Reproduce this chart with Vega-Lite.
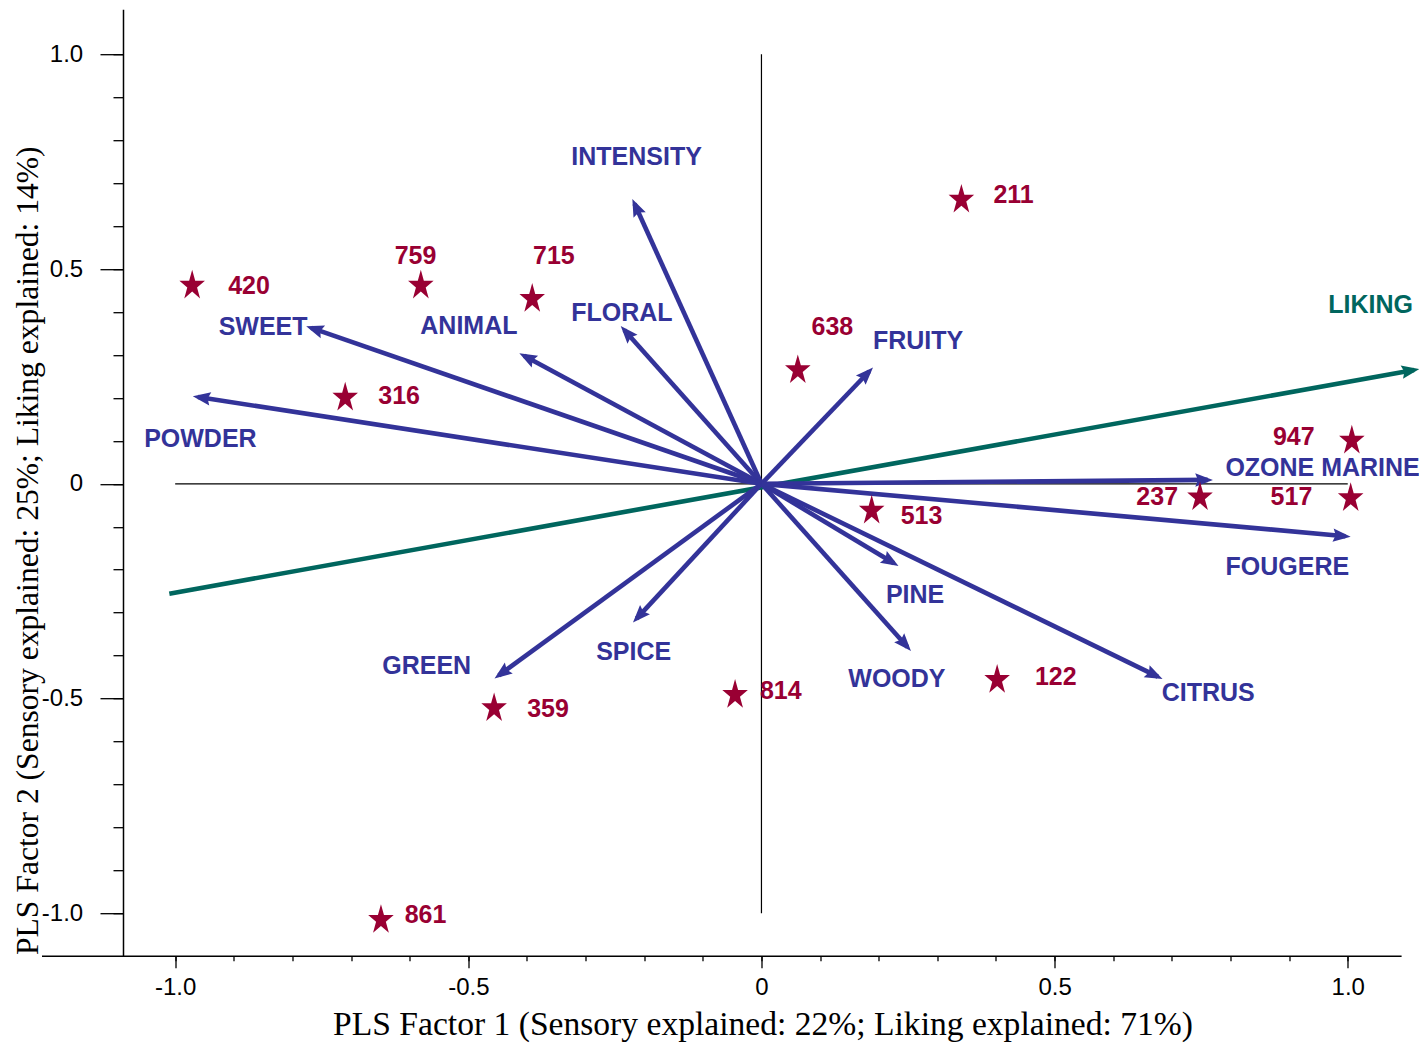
{
  "$schema": "https://vega.github.io/schema/vega-lite/v6.json",
  "width": 1359.6,
  "height": 946.6,
  "autosize": {"type": "none"},
  "padding": {"left": 41.5, "top": 9.2, "right": 18, "bottom": 88},
  "background": "white",
  "config": {"view": {"stroke": null}},
  "datasets": {
    "ref": [
      {"x": -1, "x2": 1, "y": 0, "y2": 0},
      {"x": 0, "x2": 0, "y": -1, "y2": 1}
    ],
    "loadings": [
      {"name": "LIKING", "kind": "liking", "x0": -1.010, "y0": -0.256, "x": 1.113, "y": 0.265, "lx": 1.039, "ly": 0.416},
      {"name": "INTENSITY", "kind": "sensory", "x0": 0, "y0": 0, "x": -0.2165, "y": 0.652, "lx": -0.213, "ly": 0.762},
      {"name": "FLORAL", "kind": "sensory", "x0": 0, "y0": 0, "x": -0.234, "y": 0.358, "lx": -0.238, "ly": 0.398},
      {"name": "ANIMAL", "kind": "sensory", "x0": 0, "y0": 0, "x": -0.405, "y": 0.298, "lx": -0.499, "ly": 0.367},
      {"name": "SWEET", "kind": "sensory", "x0": 0, "y0": 0, "x": -0.768, "y": 0.363, "lx": -0.850, "ly": 0.366},
      {"name": "POWDER", "kind": "sensory", "x0": 0, "y0": 0, "x": -0.961, "y": 0.202, "lx": -0.957, "ly": 0.104},
      {"name": "GREEN", "kind": "sensory", "x0": 0, "y0": 0, "x": -0.448, "y": -0.446, "lx": -0.571, "ly": -0.424},
      {"name": "SPICE", "kind": "sensory", "x0": 0, "y0": 0, "x": -0.213, "y": -0.314, "lx": -0.218, "ly": -0.391},
      {"name": "PINE", "kind": "sensory", "x0": 0, "y0": 0, "x": 0.226, "y": -0.185, "lx": 0.262, "ly": -0.258},
      {"name": "WOODY", "kind": "sensory", "x0": 0, "y0": 0, "x": 0.249, "y": -0.380, "lx": 0.231, "ly": -0.455},
      {"name": "CITRUS", "kind": "sensory", "x0": 0, "y0": 0, "x": 0.676, "y": -0.449, "lx": 0.762, "ly": -0.488},
      {"name": "FRUITY", "kind": "sensory", "x0": 0, "y0": 0, "x": 0.184, "y": 0.262, "lx": 0.267, "ly": 0.332},
      {"name": "OZONE MARINE", "kind": "sensory", "x0": 0, "y0": 0, "x": 0.761, "y": 0.009, "lx": 0.957, "ly": 0.037},
      {"name": "FOUGERE", "kind": "sensory", "x0": 0, "y0": 0, "x": 0.996, "y": -0.122, "lx": 0.897, "ly": -0.193}
    ],
    "samples": [
      {"id": "420", "x": -0.971, "y": 0.465, "lx": -0.874, "ly": 0.461},
      {"id": "759", "x": -0.581, "y": 0.465, "lx": -0.590, "ly": 0.530},
      {"id": "715", "x": -0.391, "y": 0.434, "lx": -0.354, "ly": 0.530},
      {"id": "316", "x": -0.710, "y": 0.204, "lx": -0.618, "ly": 0.204},
      {"id": "211", "x": 0.341, "y": 0.665, "lx": 0.430, "ly": 0.673},
      {"id": "638", "x": 0.062, "y": 0.268, "lx": 0.121, "ly": 0.366},
      {"id": "513", "x": 0.188, "y": -0.059, "lx": 0.273, "ly": -0.075},
      {"id": "947", "x": 1.007, "y": 0.104, "lx": 0.908, "ly": 0.110},
      {"id": "237", "x": 0.748, "y": -0.028, "lx": 0.675, "ly": -0.030},
      {"id": "517", "x": 1.005, "y": -0.030, "lx": 0.904, "ly": -0.030},
      {"id": "122", "x": 0.402, "y": -0.453, "lx": 0.502, "ly": -0.449},
      {"id": "814", "x": -0.045, "y": -0.488, "lx": 0.033, "ly": -0.483},
      {"id": "359", "x": -0.456, "y": -0.519, "lx": -0.364, "ly": -0.525},
      {"id": "861", "x": -0.649, "y": -1.012, "lx": -0.573, "ly": -1.003}
    ]
  },
  "resolve": {"axis": {"x": "independent", "y": "independent"}},
  "layer": [
    {
      "data": {"name": "ref"},
      "mark": {"type": "rule", "color": "black", "strokeWidth": 1.2},
      "encoding": {
        "x": {
          "field": "x", "type": "quantitative",
          "scale": {"domain": [-1.228, 1.091], "nice": false, "zero": false},
          "axis": {
            "orient": "bottom",
            "values": [-1, -0.5, 0, 0.5, 1],
            "labelExpr": "datum.value == 0 ? '0' : (datum.value < 0 ? '-' : '') + format(abs(datum.value), '.1f')",
            "grid": false,
            "domain": true, "domainColor": "black", "domainWidth": 1.5,
            "ticks": true, "tickColor": "black", "tickSize": 12, "tickWidth": 1.3,
            "labelFont": "Liberation Sans", "labelFontSize": 24, "labelColor": "black",
            "labelBaseline": "alphabetic", "labelPadding": 27, "labelFlush": false, "labelOverlap": false,
            "title": "PLS Factor 1 (Sensory explained: 22%; Liking explained: 71%)",
            "titleFont": "Liberation Serif", "titleFontSize": 33.6, "titleFontWeight": "normal", "titleColor": "black",
            "titleX": 721, "titleY": 79, "titleAlign": "center", "titleBaseline": "alphabetic"
          }
        },
        "x2": {"field": "x2"},
        "y": {
          "field": "y", "type": "quantitative",
          "scale": {"domain": [-1.099, 1.105], "nice": false, "zero": false},
          "axis": {
            "orient": "left",
            "offset": -81.5,
            "values": [-1, -0.5, 0, 0.5, 1],
            "labelExpr": "datum.value == 0 ? '0' : (datum.value < 0 ? '-' : '') + format(abs(datum.value), '.1f')",
            "grid": false,
            "domain": true, "domainColor": "black", "domainWidth": 1.5,
            "ticks": true, "tickColor": "black", "tickSize": 23, "tickWidth": 1.3,
            "labelFont": "Liberation Sans", "labelFontSize": 24, "labelColor": "black",
            "labelAlign": "right", "labelBaseline": "middle", "labelPadding": 17.3, "labelFlush": false, "labelOverlap": false,
            "title": "PLS Factor 2 (Sensory explained: 25%; Liking explained: 14%)",
            "titleFont": "Liberation Serif", "titleFontSize": 31.6, "titleFontWeight": "normal", "titleColor": "black",
            "titleAngle": -90, "titleX": -85.3, "titleY": 541, "titleAlign": "center", "titleBaseline": "alphabetic"
          }
        },
        "y2": {"field": "y2"}
      }
    },
    {
      "data": {"name": "ref"},
      "mark": {"type": "rule", "opacity": 0},
      "encoding": {
        "x": {
          "field": "x", "type": "quantitative",
          "axis": {
            "orient": "bottom",
            "values": [-1, -0.9, -0.8, -0.7, -0.6, -0.5, -0.4, -0.3, -0.2, -0.1, 0, 0.1, 0.2, 0.3, 0.4, 0.5, 0.6, 0.7, 0.8, 0.9, 1],
            "labels": false, "domain": false, "grid": false,
            "ticks": true, "tickColor": "black", "tickSize": 5, "tickWidth": 1.3, "title": null
          }
        },
        "y": {
          "field": "y", "type": "quantitative",
          "axis": {
            "orient": "left", "offset": -81.5,
            "values": [-1, -0.9, -0.8, -0.7, -0.6, -0.5, -0.4, -0.3, -0.2, -0.1, 0, 0.1, 0.2, 0.3, 0.4, 0.5, 0.6, 0.7, 0.8, 0.9, 1],
            "labels": false, "domain": false, "grid": false,
            "ticks": true, "tickColor": "black", "tickSize": 10, "tickWidth": 1.3, "title": null
          }
        }
      }
    },
    {
      "data": {"name": "loadings"},
      "mark": {"type": "rule", "strokeWidth": 4.6, "strokeCap": "butt"},
      "encoding": {
        "x": {"field": "x0", "type": "quantitative", "axis": null},
        "y": {"field": "y0", "type": "quantitative", "axis": null},
        "x2": {"field": "x"},
        "y2": {"field": "y"},
        "color": {"field": "kind", "type": "nominal", "scale": {"domain": ["sensory", "liking"], "range": ["#333399", "#00665e"]}, "legend": null}
      }
    },
    {
      "data": {"name": "loadings"},
      "mark": {
        "type": "point",
        "shape": "M0,-0.3L0.38,0.7L0,0.55L-0.38,0.7Z",
        "filled": true, "opacity": 1, "size": 1250, "strokeWidth": 0,
        "angle": {"expr": "atan2(scale('x', datum.x) - scale('x', datum.x0), scale('y', datum.y0) - scale('y', datum.y)) * 180 / PI"}
      },
      "encoding": {
        "x": {"field": "x", "type": "quantitative", "axis": null},
        "y": {"field": "y", "type": "quantitative", "axis": null},
        "color": {"field": "kind", "type": "nominal", "scale": {"domain": ["sensory", "liking"], "range": ["#333399", "#00665e"]}, "legend": null}
      }
    },
    {
      "data": {"name": "samples"},
      "mark": {
        "type": "point",
        "shape": "M0,-0.9045L0.191,-0.2135L0.808,-0.2135L0.309,0.2135L0.5,0.9045L0,0.4775L-0.5,0.9045L-0.309,0.2135L-0.808,-0.2135L-0.191,-0.2135Z",
        "filled": true, "opacity": 1, "size": 1000, "strokeWidth": 0, "color": "#990033"
      },
      "encoding": {
        "x": {"field": "x", "type": "quantitative", "axis": null},
        "y": {"field": "y", "type": "quantitative", "axis": null}
      }
    },
    {
      "data": {"name": "samples"},
      "mark": {"type": "text", "font": "Liberation Sans", "fontWeight": "bold", "fontSize": 25, "color": "#990033", "align": "center", "baseline": "middle"},
      "encoding": {
        "x": {"field": "lx", "type": "quantitative", "axis": null},
        "y": {"field": "ly", "type": "quantitative", "axis": null},
        "text": {"field": "id"}
      }
    },
    {
      "data": {"name": "loadings"},
      "mark": {"type": "text", "font": "Liberation Sans", "fontWeight": "bold", "fontSize": 25, "align": "center", "baseline": "middle"},
      "encoding": {
        "x": {"field": "lx", "type": "quantitative", "axis": null},
        "y": {"field": "ly", "type": "quantitative", "axis": null},
        "text": {"field": "name"},
        "color": {"field": "kind", "type": "nominal", "scale": {"domain": ["sensory", "liking"], "range": ["#333399", "#00665e"]}, "legend": null}
      }
    }
  ]
}
